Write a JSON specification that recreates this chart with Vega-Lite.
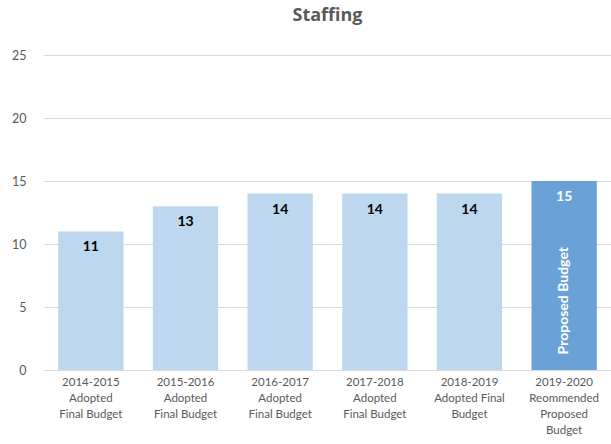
{
  "$schema": "https://vega.github.io/schema/vega-lite/v6.json",
  "width": 567,
  "height": 315,
  "autosize": {"type": "none"},
  "padding": {"left": 44, "top": 55, "right": 0, "bottom": 74},
  "background": "white",
  "config": {
    "view": {"stroke": null},
    "font": "Lato"
  },
  "title": {
    "text": "Staffing",
    "fontSize": 18,
    "fontWeight": "bold",
    "color": "#595959",
    "font": "Open Sans",
    "anchor": "middle",
    "offset": 24
  },
  "data": {
    "values": [
      {"period": "2014-2015|Adopted|Final Budget", "staff": 11, "kind": "Adopted", "note": ""},
      {"period": "2015-2016|Adopted|Final Budget", "staff": 13, "kind": "Adopted", "note": ""},
      {"period": "2016-2017|Adopted|Final Budget", "staff": 14, "kind": "Adopted", "note": ""},
      {"period": "2017-2018|Adopted|Final Budget", "staff": 14, "kind": "Adopted", "note": ""},
      {"period": "2018-2019|Adopted Final|Budget", "staff": 14, "kind": "Adopted", "note": ""},
      {"period": "2019-2020|Reommended|Proposed|Budget", "staff": 15, "kind": "Proposed", "note": "Proposed Budget"}
    ]
  },
  "encoding": {
    "x": {
      "field": "period",
      "type": "nominal",
      "sort": null,
      "scale": {"paddingInner": 0.31, "paddingOuter": 0.15},
      "axis": {
        "title": null,
        "labelAngle": 0,
        "labelExpr": "split(datum.label, '|')",
        "labelLineHeight": 16,
        "labelFontSize": 11.5,
        "labelColor": "#595959",
        "labelBaseline": "top",
        "labelPadding": 6,
        "ticks": false,
        "domainColor": "#d9d9d9",
        "labelFont": "Lato"
      }
    },
    "y": {
      "field": "staff",
      "type": "quantitative",
      "scale": {"domain": [0, 25], "nice": false},
      "axis": {
        "title": null,
        "values": [0, 5, 10, 15, 20, 25],
        "domain": false,
        "ticks": false,
        "labelPadding": 18,
        "labelFontSize": 12.5,
        "labelColor": "#595959",
        "gridColor": "#d9d9d9",
        "labelFont": "Lato"
      }
    }
  },
  "layer": [
    {
      "mark": {"type": "bar"},
      "encoding": {
        "color": {
          "field": "kind",
          "type": "nominal",
          "scale": {"domain": ["Adopted", "Proposed"], "range": ["#bdd7ee", "#6aa2d8"]},
          "legend": null
        }
      }
    },
    {
      "mark": {"type": "text", "dy": 16, "fontSize": 14, "fontWeight": "bold", "font": "Lato"},
      "encoding": {
        "text": {"field": "staff", "type": "quantitative"},
        "color": {
          "condition": {"test": "datum.kind == 'Proposed'", "value": "#ffffff"},
          "value": "#000000"
        }
      }
    },
    {
      "transform": [{"filter": "datum.note != ''"}],
      "mark": {"type": "text", "angle": 270, "fontSize": 14, "fontWeight": "bold", "color": "white", "font": "Lato", "baseline": "middle", "align": "center"},
      "encoding": {
        "y": {"datum": 5.5, "type": "quantitative"},
        "text": {"field": "note"}
      }
    }
  ]
}
